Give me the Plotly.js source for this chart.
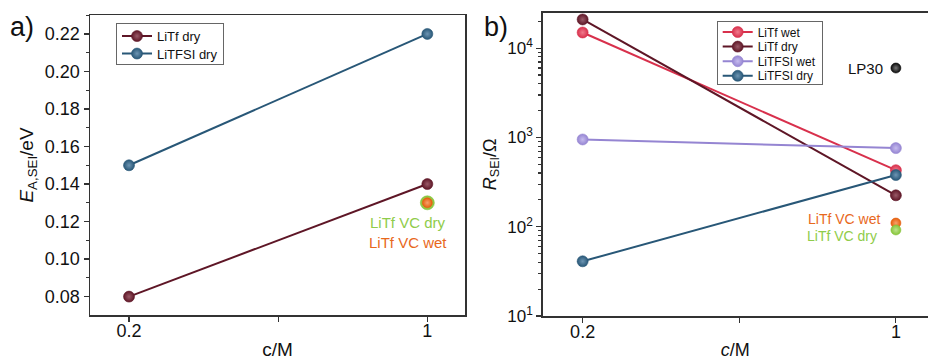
<!DOCTYPE html>
<html><head><meta charset="utf-8">
<script src="https://cdn.plot.ly/plotly-3.0.1.min.js"></script>
<style>html,body{margin:0;padding:0;background:#fff}#chart{width:928px;height:360px}</style>
</head><body><div id="chart"></div><script>
// concentrations (c/M)
const conc = [0.2, 1];
const concSingle = [1];
// panel a: activation energy E_A,SEI / eV
const eaLiTfDry = [0.08, 0.14];
const eaLiTFSIDry = [0.15, 0.22];
const eaLiTfVCdry = [0.13];
const eaLiTfVCwet = [0.13];
// panel b: R_SEI / Ohm
const rLiTfWet = [15000, 430];
const rLiTfDry = [21000, 225];
const rLiTFSIWet = [950, 760];
const rLiTFSIDry = [41, 380];
const rLP30 = [6000];
const rLiTfVCwet = [110];
const rLiTfVCdry = [92];
// tick labels
const xTickVals = [0.2, 0.6, 1];
const xTickText = ['0.2', '', '1'];
const rTickVals = [10, 100, 1000, 10000];
const rTickText = ['10<sup>1</sup>', '10<sup>2</sup>', '10<sup>3</sup>', '10<sup>4</sup>'];

const FONT = '"Liberation Sans", Arial, sans-serif';
const C = {
  maroon: '#5e1626', blue: '#285777', red: '#d8304c', lav: '#9585d2',
  green: '#86c53a', orange: '#e55e0c', black: '#0a0a0a'
};
const LIGHT = {
  maroon: '#9a5a68', blue: '#6d95b3', red: '#f07a8c', lav: '#c6bbee',
  green: '#bde48c', orange: '#f7a26c', black: '#777777'
};
function mk(key, size) {
  return {color: C[key], size: size, line: {color: C[key], width: 0.6},
          gradient: {type: 'radial', color: LIGHT[key]}};
}
const LW = 2;
const traces = [
  {x: conc, y: eaLiTfDry, name: 'LiTf dry', mode: 'lines+markers', xaxis: 'x', yaxis: 'y',
   line: {color: C.maroon, width: LW}, marker: mk('maroon', 11), legend: 'legend'},
  {x: conc, y: eaLiTFSIDry, name: 'LiTFSI dry', mode: 'lines+markers', xaxis: 'x', yaxis: 'y',
   line: {color: C.blue, width: LW}, marker: mk('blue', 11), legend: 'legend'},
  {x: concSingle, y: eaLiTfVCdry, name: 'LiTf VC dry', mode: 'markers', xaxis: 'x', yaxis: 'y',
   marker: mk('green', 14), showlegend: false},
  {x: concSingle, y: eaLiTfVCwet, name: 'LiTf VC wet', mode: 'markers', xaxis: 'x', yaxis: 'y',
   marker: mk('orange', 10), showlegend: false},

  {x: conc, y: rLiTfWet, name: 'LiTf wet', mode: 'lines+markers', xaxis: 'x2', yaxis: 'y2',
   line: {color: C.red, width: LW}, marker: mk('red', 11), legend: 'legend2'},
  {x: conc, y: rLiTfDry, name: 'LiTf dry', mode: 'lines+markers', xaxis: 'x2', yaxis: 'y2',
   line: {color: C.maroon, width: LW}, marker: mk('maroon', 11), legend: 'legend2'},
  {x: conc, y: rLiTFSIWet, name: 'LiTFSI wet', mode: 'lines+markers', xaxis: 'x2', yaxis: 'y2',
   line: {color: C.lav, width: LW}, marker: mk('lav', 11), legend: 'legend2'},
  {x: conc, y: rLiTFSIDry, name: 'LiTFSI dry', mode: 'lines+markers', xaxis: 'x2', yaxis: 'y2',
   line: {color: C.blue, width: LW}, marker: mk('blue', 11), legend: 'legend2'},
  {x: concSingle, y: rLP30, name: 'LP30', mode: 'markers', xaxis: 'x2', yaxis: 'y2',
   marker: mk('black', 10), showlegend: false},
  {x: concSingle, y: rLiTfVCwet, name: 'LiTf VC wet', mode: 'markers', xaxis: 'x2', yaxis: 'y2',
   marker: mk('orange', 10), showlegend: false},
  {x: concSingle, y: rLiTfVCdry, name: 'LiTf VC dry', mode: 'markers', xaxis: 'x2', yaxis: 'y2',
   marker: mk('green', 10), showlegend: false}
];

const axLine = {showline: true, linecolor: '#333', linewidth: 1.5, mirror: true,
  ticks: 'outside', tickcolor: '#333', tickwidth: 1.2, ticklen: 5, zeroline: false, showgrid: false};

function P(px, py) { return {x: px / 928, y: 1 - py / 360}; }

const legendBase = {bgcolor: 'rgba(255,255,255,0)', bordercolor: '#666', borderwidth: 1,
  itemwidth: 30, tracegroupgap: 0, traceorder: 'normal', xanchor: 'left', yanchor: 'top'};

const layout = {
  width: 928, height: 360,
  margin: {l: 0, r: 0, t: 0, b: 0},
  paper_bgcolor: '#fff', plot_bgcolor: '#fff',
  font: {family: FONT, color: '#111', size: 17},
  showlegend: true,
  xaxis: Object.assign({}, axLine, {
    domain: [90 / 928, 465 / 928], range: [0.0954, 1.101], anchor: 'y',
    tickmode: 'array', tickvals: xTickVals, ticktext: xTickText,
    tickfont: {size: 18}, ticklabelstandoff: -6,
    title: {text: 'c/M', font: {size: 19}, standoff: 4}
  }),
  yaxis: Object.assign({}, axLine, {
    domain: [1 - 315 / 360, 1 - 15 / 360], range: [0.0702, 0.2301], anchor: 'x',
    dtick: 0.02, tick0: 0, tickformat: '.2f', tickfont: {size: 18},
    minor: {dtick: 0.01, ticks: 'outside', ticklen: 3, tickcolor: '#333'},
    title: {text: '<i>E</i><sub>A,SEI</sub>/eV', font: {size: 19}, standoff: 6}
  }),
  xaxis2: Object.assign({}, axLine, {
    domain: [542.7 / 928, 1], range: [0.098, 1.082], anchor: 'y2',
    tickmode: 'array', tickvals: xTickVals, ticktext: xTickText,
    tickfont: {size: 18}, ticklabelstandoff: -6,
    title: {text: '<i>c</i>/M', font: {size: 18}, standoff: 9}
  }),
  yaxis2: Object.assign({}, axLine, {
    type: 'log', domain: [1 - 316 / 360, 1 - 12.7 / 360], range: [1, 4.398], anchor: 'x2',
    tickmode: 'array', tickvals: rTickVals, ticktext: rTickText, tickfont: {size: 17},
    minor: {tickmode: 'array', ticks: 'outside', ticklen: 3, tickcolor: '#333',
      tickvals: [20,30,40,50,60,70,80,90,200,300,400,500,600,700,800,900,
                 2000,3000,4000,5000,6000,7000,8000,9000,20000]},
    title: {text: '<i>R</i><sub>SEI</sub>/Ω', font: {size: 18}, standoff: 6}
  }),
  legend: Object.assign({}, legendBase, {x: 116 / 928, y: 1 - 23.3 / 360, font: {size: 13, family: FONT}}),
  legend2: Object.assign({}, legendBase, {x: 716.7 / 928, y: 1 - 20.7 / 360, font: {size: 12, family: FONT}}),
  annotations: [
    Object.assign({text: 'a)', xref: 'paper', yref: 'paper', showarrow: false,
      xanchor: 'left', yanchor: 'middle', font: {size: 27}}, P(8, 27)),
    Object.assign({text: 'b)', xref: 'paper', yref: 'paper', showarrow: false,
      xanchor: 'left', yanchor: 'middle', font: {size: 27}}, P(482, 27)),
    {text: 'LiTf VC dry', xref: 'x', yref: 'y', x: concSingle[0], y: eaLiTfVCdry[0],
     showarrow: false, xanchor: 'center', yanchor: 'middle', xshift: -19, yshift: -20,
     font: {size: 15, color: '#8fcc4a'}},
    {text: 'LiTf VC wet', xref: 'x', yref: 'y', x: concSingle[0], y: eaLiTfVCwet[0],
     showarrow: false, xanchor: 'center', yanchor: 'middle', xshift: -19, yshift: -40,
     font: {size: 15, color: '#e8681c'}},
    {text: 'LP30', xref: 'x2', yref: 'y2', x: concSingle[0], y: Math.log10(rLP30[0]),
     showarrow: false, xanchor: 'right', yanchor: 'middle', xshift: -11, yshift: 0,
     font: {size: 15, color: '#111'}},
    {text: 'LiTf VC wet', xref: 'x2', yref: 'y2', x: concSingle[0], y: Math.log10(rLiTfVCwet[0]),
     showarrow: false, xanchor: 'right', yanchor: 'middle', xshift: -14, yshift: 4,
     font: {size: 14, color: '#e8681c'}},
    {text: 'LiTf VC dry', xref: 'x2', yref: 'y2', x: concSingle[0], y: Math.log10(rLiTfVCdry[0]),
     showarrow: false, xanchor: 'right', yanchor: 'middle', xshift: -17, yshift: -6,
     font: {size: 14, color: '#8fcc4a'}}
  ]
};

// tighten legend row pitch (and padding) to match the reference
function tightenLegend(gd, cls, pitch, pad) {
  const lg = gd.querySelector('g.' + cls);
  if (!lg) return;
  const items = Array.from(lg.querySelectorAll('g.traces'));
  if (items.length < 2) return;
  const ys = items.map(function (it) {
    const m = /translate\(\s*([-\d.]+)[ ,]+([-\d.]+)\s*\)/.exec(it.getAttribute('transform') || '');
    return m ? [parseFloat(m[1]), parseFloat(m[2])] : null;
  });
  if (ys.some(function (v) { return !v; })) return;
  const p0 = ys[1][1] - ys[0][1];
  const shrink = p0 - pitch;
  items.forEach(function (it, i) {
    it.setAttribute('transform', 'translate(' + ys[i][0] + ',' + (ys[0][1] + i * pitch - shrink / 2 + 1 - pad / 2) + ')');
  });
  const bg = lg.querySelector('rect.bg');
  if (bg) {
    const h = parseFloat(bg.getAttribute('height'));
    bg.setAttribute('height', h - shrink * items.length - pad);
  }
}

Plotly.newPlot('chart', traces, layout, {displayModeBar: false, staticPlot: true}).then(function (gd) {
  tightenLegend(gd, 'legend', 17.5, 6);
  tightenLegend(gd, 'legend2', 14.6, 6);
});
</script></body></html>
